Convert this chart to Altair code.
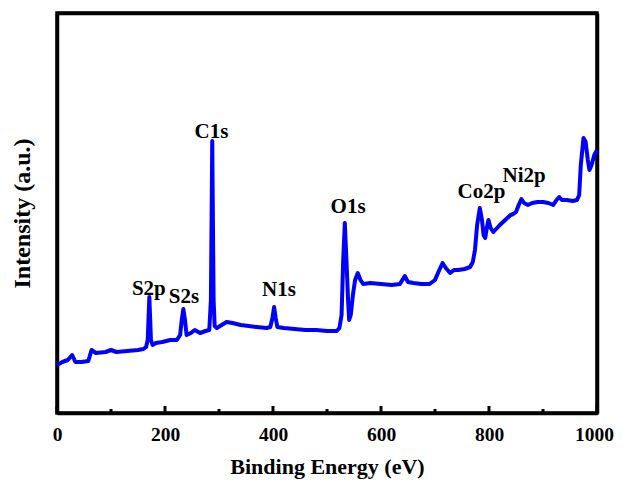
import altair as alt
import pandas as pd

energy = [0, 10, 20, 28, 34, 45, 58, 64, 72, 90, 100, 110, 130, 150, 160, 165, 168, 171, 174, 177,
          183, 195, 210, 222, 228, 231, 234, 237, 240, 248, 255, 265, 275, 282, 285, 287.5, 290, 292,
          296, 305, 314, 325, 340, 355, 370, 388, 395, 399, 402, 405, 408, 420, 440, 460, 480, 500,
          518, 523, 527, 530, 533, 536, 539, 541, 544, 548, 552, 557, 562, 567, 580, 600, 620, 635,
          644, 650, 660, 675, 690, 700, 708, 714, 720, 728, 735, 743, 755, 765, 770, 774, 778, 783,
          787, 790, 793, 796, 799, 803, 808, 815, 820, 830, 840, 845, 850, 855, 860, 865, 872, 880,
          890, 900, 910, 919, 925, 930, 935, 944, 955, 963, 967, 970, 975, 979, 983, 986, 990, 995, 1000]
intensity = [48, 51, 53, 58, 51, 51, 52, 63, 60, 61, 63, 61, 62, 63, 64, 66, 73, 116, 73, 68,
             70, 71, 73, 73, 78, 93, 104, 93, 78, 80, 83, 80, 82, 83, 113, 272, 113, 87,
             85, 88, 91, 90, 88, 87, 86, 85, 86, 95, 106, 95, 86, 85, 84, 83, 83, 82,
             82, 85, 98, 153, 190, 153, 113, 93, 98, 118, 133, 140, 133, 129, 130, 129, 128, 129,
             137, 131, 130, 129, 129, 133, 143, 150, 145, 140, 143, 143, 144, 146, 151, 163, 188, 205,
             193, 178, 175, 185, 193, 185, 181, 185, 188, 193, 198, 199, 201, 208, 214, 210, 208, 210,
             211, 211, 210, 208, 213, 216, 213, 213, 212, 213, 218, 248, 275, 271, 253, 243, 248, 258, 263]

peak_labels = ["S2p", "S2s", "C1s", "N1s", "O1s", "Co2p", "Ni2p"]
peak_x = [170, 235, 286, 411, 539, 786, 865]
peak_y = [118, 110, 275, 117, 200, 215, 231]

major_ticks = [0, 200, 400, 600, 800, 1000]
minor_ticks = [100, 300, 500, 700, 900]

FONT = "Liberation Serif"

spec = pd.DataFrame({"energy": energy, "intensity": intensity})
labels = pd.DataFrame({"label": peak_labels, "x": peak_x, "y": peak_y})
ticks = pd.DataFrame({
    "x": major_ticks + minor_ticks,
    "y0": [0] * (len(major_ticks) + len(minor_ticks)),
    "y1": [7] * len(major_ticks) + [4] * len(minor_ticks),
})

xscale = alt.Scale(domain=[0, 1000], nice=False, zero=False)
yscale = alt.Scale(domain=[0, 400], nice=False, zero=False)

line = alt.Chart(spec).mark_line(color="#0000ff", strokeWidth=4, strokeJoin="round").encode(
    x=alt.X("energy:Q", scale=xscale,
            axis=alt.Axis(title="Binding Energy (eV)", values=major_ticks, ticks=False, format="d",
                          grid=False, labelFont=FONT, labelFontWeight="bold", labelFontSize=19.5,
                          labelColor="black", labelPadding=12, domainColor="black", domainWidth=3.5,
                          labelOffset={"condition": {"test": "datum.value == 1000", "value": -3},
                                       "value": 0},
                          titleFont=FONT, titleFontWeight="bold", titleFontSize=22,
                          titleColor="black", titlePadding=13, labelFlush=False)),
    y=alt.Y("intensity:Q", scale=yscale,
            axis=alt.Axis(title="Intensity (a.u.)", labels=False, ticks=False, grid=False,
                          domainColor="black", domainWidth=3.5,
                          titleFont=FONT, titleFontWeight="bold", titleFontSize=24,
                          titleColor="black", titlePadding=23)),
)

frame = alt.Chart(spec).mark_line(opacity=0).encode(
    x=alt.X("energy:Q", scale=xscale,
            axis=alt.Axis(orient="top", title=None, labels=False, ticks=False, grid=False,
                          domainColor="black", domainWidth=3.5)),
    y=alt.Y("intensity:Q", scale=yscale,
            axis=alt.Axis(orient="right", title=None, labels=False, ticks=False, grid=False,
                          domainColor="black", domainWidth=3.5)),
)

tick_marks = alt.Chart(ticks).mark_rule(color="black", strokeWidth=3).encode(
    x=alt.X("x:Q", scale=xscale, axis=None),
    y=alt.Y("y0:Q", scale=yscale, axis=None),
    y2="y1:Q",
)

text = alt.Chart(labels).mark_text(font=FONT, fontWeight="bold", fontSize=21, color="black",
                                   baseline="alphabetic", align="center").encode(
    x=alt.X("x:Q", scale=xscale, axis=None),
    y=alt.Y("y:Q", scale=yscale, axis=None),
    text="label:N",
)

chart = alt.layer(line, frame, tick_marks, text).resolve_axis(
    x="independent", y="independent"
).properties(
    width=540, height=400,
    background="white",
    autosize=alt.AutoSizeParams(type="none"),
    padding={"left": 49, "top": 5, "right": 17, "bottom": 68},
).configure_view(stroke="black", strokeWidth=3.5)

chart.save("out.html", embed_options={"renderer": "svg", "actions": False})
